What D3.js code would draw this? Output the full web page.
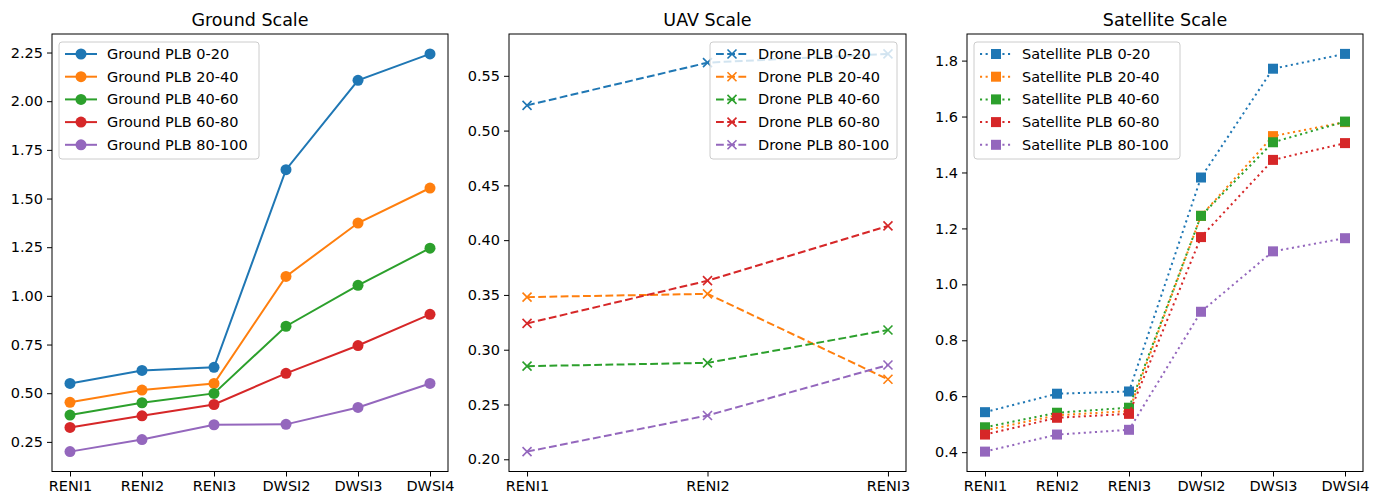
<!DOCTYPE html>
<html>
<head>
<meta charset="utf-8">
<script src="https://cdn.jsdelivr.net/npm/d3@7"></script>
<style>
  body { margin: 0; background: #fff; }
  svg { font-family: 'DejaVu Sans', sans-serif; }
</style>
</head>
<body>
<svg id="chart" width="1381" height="496"></svg>
<script>
// categories
const ground_cats = ['RENI1', 'RENI2', 'RENI3', 'DWSI2', 'DWSI3', 'DWSI4'];
const uav_cats = ['RENI1', 'RENI2', 'RENI3'];
const sat_cats = ['RENI1', 'RENI2', 'RENI3', 'DWSI2', 'DWSI3', 'DWSI4'];

const bands = ['0-20', '20-40', '40-60', '60-80', '80-100'];

// series values
const ground_0_20 = [0.55, 0.617, 0.633, 1.648, 2.107, 2.243];
const ground_20_40 = [0.453, 0.516, 0.55, 1.10, 1.374, 1.554];
const ground_40_60 = [0.388, 0.451, 0.499, 0.844, 1.054, 1.245];
const ground_60_80 = [0.324, 0.384, 0.442, 0.602, 0.745, 0.905];
const ground_80_100 = [0.20, 0.262, 0.338, 0.340, 0.427, 0.55];

const uav_0_20 = [0.523, 0.562, 0.570];
const uav_20_40 = [0.348, 0.351, 0.273];
const uav_40_60 = [0.285, 0.288, 0.318];
const uav_60_80 = [0.324, 0.363, 0.413];
const uav_80_100 = [0.207, 0.240, 0.286];

const sat_0_20 = [0.543, 0.609, 0.617, 1.382, 1.771, 1.824];
const sat_20_40 = [0.478, 0.532, 0.547, 1.245, 1.530, 1.580];
const sat_40_60 = [0.489, 0.541, 0.559, 1.245, 1.508, 1.582];
const sat_60_80 = [0.463, 0.523, 0.537, 1.169, 1.445, 1.505];
const sat_80_100 = [0.402, 0.463, 0.480, 0.902, 1.118, 1.165];

// tick labels
const ground_ticks = [0.25, 0.5, 0.75, 1.0, 1.25, 1.5, 1.75, 2.0, 2.25];
const uav_ticks = [0.20, 0.25, 0.30, 0.35, 0.40, 0.45, 0.50, 0.55];
const sat_ticks = [0.4, 0.6, 0.8, 1.0, 1.2, 1.4, 1.6, 1.8];

const colors = ['#1f77b4', '#ff7f0e', '#2ca02c', '#d62728', '#9467bd'];

const svg = d3.select('#chart');
const top_y = 34, bottom_y = 471.5;

const panels = [
  { title: 'Ground Scale', left: 52, width: 396, cats: ground_cats, ticks: ground_ticks, fmt: '.2f',
    series: [ground_0_20, ground_20_40, ground_40_60, ground_60_80, ground_80_100],
    prefix: 'Ground PLB ', marker: 'circle', dash: null,
    legend: { x: 59, w: 200 } },
  { title: 'UAV Scale', left: 509, width: 397, cats: uav_cats, ticks: uav_ticks, fmt: '.2f',
    series: [uav_0_20, uav_20_40, uav_40_60, uav_60_80, uav_80_100],
    prefix: 'Drone PLB ', marker: 'x', dash: '7.8,3.4',
    legend: { x: 710, w: 187 } },
  { title: 'Satellite Scale', left: 967, width: 396, cats: sat_cats, ticks: sat_ticks, fmt: '.1f',
    series: [sat_0_20, sat_20_40, sat_40_60, sat_60_80, sat_80_100],
    prefix: 'Satellite PLB ', marker: 'square', dash: '2.1,3.5',
    legend: { x: 974, w: 206 } },
];

function drawMarker(g, type, color) {
  if (type === 'circle') {
    g.append('circle').attr('r', 5.5).attr('fill', color);
  } else if (type === 'square') {
    g.append('rect').attr('x', -5).attr('y', -5).attr('width', 10).attr('height', 10).attr('fill', color);
  } else {
    g.append('path').attr('d', 'M-4.5,-4.5L4.5,4.5M-4.5,4.5L4.5,-4.5')
      .attr('stroke', color).attr('stroke-width', 1.6).attr('fill', 'none');
  }
}

panels.forEach((p) => {
  const all = p.series.flat();
  const lo = d3.min(all), hi = d3.max(all), r = hi - lo;
  const y = d3.scaleLinear().domain([lo - 0.05 * r, hi + 0.05 * r]).range([bottom_y, top_y]);
  const x = d3.scalePoint().domain(p.cats).range([p.left, p.left + p.width]).padding(0.05 * (p.cats.length - 1));

  const g = svg.append('g');

  g.append('text')
    .attr('x', p.left + p.width / 2).attr('y', 26)
    .attr('text-anchor', 'middle').style('font-size', '17.5px').attr('fill', '#000')
    .text(p.title);

  // axes
  g.append('g')
    .attr('transform', `translate(0,${bottom_y})`)
    .call(d3.axisBottom(x).tickSize(5).tickPadding(4))
    .call(a => a.select('.domain').remove())
    .call(a => a.selectAll('text').style('font-size', '14.5px').style('font-family', 'DejaVu Sans').attr('fill', '#000'))
    .call(a => a.selectAll('line').attr('stroke', '#000'));

  g.append('g')
    .attr('transform', `translate(${p.left},0)`)
    .call(d3.axisLeft(y).tickValues(p.ticks).tickFormat(d3.format(p.fmt)).tickSize(5).tickPadding(4))
    .call(a => a.select('.domain').remove())
    .call(a => a.selectAll('text').style('font-size', '14.5px').style('font-family', 'DejaVu Sans').attr('fill', '#000'))
    .call(a => a.selectAll('line').attr('stroke', '#000'));

  const line = d3.line().x((d, i) => x(p.cats[i])).y(d => y(d));

  p.series.forEach((s, k) => {
    const sg = g.append('g');
    sg.append('path')
      .datum(s)
      .attr('d', line)
      .attr('fill', 'none')
      .attr('stroke', colors[k])
      .attr('stroke-width', 2)
      .attr('stroke-dasharray', p.dash);
    s.forEach((v, i) => {
      const mg = sg.append('g').attr('transform', `translate(${x(p.cats[i])},${y(v)})`);
      drawMarker(mg, p.marker, colors[k]);
    });
  });

  // frame
  g.append('rect')
    .attr('x', p.left).attr('y', top_y)
    .attr('width', p.width).attr('height', bottom_y - top_y)
    .attr('fill', 'none').attr('stroke', '#000').attr('stroke-width', 1);

  // legend
  const lg = g.append('g');
  lg.append('rect')
    .attr('x', p.legend.x).attr('y', 42)
    .attr('width', p.legend.w).attr('height', 117)
    .attr('rx', 3)
    .attr('fill', '#fff').attr('fill-opacity', 0.8)
    .attr('stroke', '#cccccc').attr('stroke-width', 1);

  bands.forEach((b, k) => {
    const ry = 54 + k * 22.7;
    const hx = p.legend.x + 6;
    lg.append('line')
      .attr('x1', hx).attr('x2', hx + 32).attr('y1', ry).attr('y2', ry)
      .attr('stroke', colors[k]).attr('stroke-width', 2)
      .attr('stroke-dasharray', p.dash);
    const mg = lg.append('g').attr('transform', `translate(${hx + 16},${ry})`);
    drawMarker(mg, p.marker, colors[k]);
    lg.append('text')
      .attr('x', hx + 42).attr('y', ry + 5)
      .style('font-size', '14.5px').attr('fill', '#000')
      .text(p.prefix + b);
  });
});
</script>
</body>
</html>
